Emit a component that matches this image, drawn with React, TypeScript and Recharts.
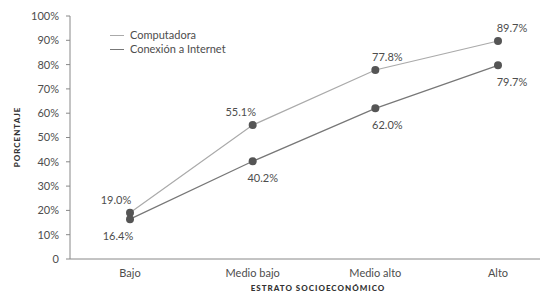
import { LineChart, Line, XAxis, YAxis, Label, LabelList } from 'recharts';

const estratos = ['Bajo', 'Medio bajo', 'Medio alto', 'Alto'];
const computadora = [19.0, 55.1, 77.8, 89.7];
const internet = [16.4, 40.2, 62.0, 79.7];
const yTicks = [0, 10, 20, 30, 40, 50, 60, 70, 80, 90, 100];

const data = estratos.map((name, i) => ({
  name,
  computadora: computadora[i],
  internet: internet[i],
}));

const FONT = 'Lato, "Open Sans", sans-serif';
const TEXT = '#4d4d4d';

// label offsets per point (top series above, bottom series below)
const topDx = [-14, -12, 12, 14];
const botDx = [-12, 10, 12, 14];

const makeLabel = (dxs: number[], dy: number) => (props: any) => {
  const { x, y, value, index } = props;
  return (
    <text
      x={x + dxs[index]}
      y={y + dy}
      textAnchor="middle"
      fontSize={11}
      fontFamily={FONT}
      fill={TEXT}
    >
      {Number(value).toFixed(1)}%
    </text>
  );
};

function LegendBox() {
  const items = [
    { label: 'Computadora', color: '#aaa' },
    { label: 'Conexión a Internet', color: '#777' },
  ];
  return (
    <div
      style={{
        position: 'absolute',
        left: 110,
        top: 28,
        fontFamily: FONT,
        fontSize: 11,
        color: TEXT,
        lineHeight: '14px',
      }}
    >
      {items.map((it) => (
        <div key={it.label} style={{ display: 'flex', alignItems: 'center' }}>
          <span style={{ display: 'inline-block', width: 14, height: 1, background: it.color, marginRight: 6 }} />
          {it.label}
        </div>
      ))}
    </div>
  );
}

export default function App() {
  return (
    <div style={{ position: 'absolute', left: 0, top: 0, width: 542, height: 297, background: '#fff' }}>
      <LineChart width={542} height={297} data={data} margin={{ top: 16, right: 2, bottom: 8, left: 0 }}>
        <XAxis
          dataKey="name"
          height={30}
          padding={{ left: 60, right: 42 }}
          tickLine={false}
          axisLine={{ stroke: '#888' }}
          tick={{ fontSize: 11, fontFamily: FONT, fill: TEXT }}
          tickMargin={4}
        >
          <Label
            value="ESTRATO SOCIOECONÓMICO"
            position="insideBottom"
            offset={-2}
            dx={13}
            style={{ fontSize: 8, fontWeight: 900, fontFamily: FONT, fill: '#333', letterSpacing: 1 }}
          />
        </XAxis>
        <YAxis
          width={70}
          domain={[0, 100]}
          ticks={yTicks}
          interval={0}
          tickFormatter={(v) => (v === 0 ? '0' : `${v}%`)}
          tickSize={4}
          tickMargin={7}
          axisLine={{ stroke: '#888' }}
          tickLine={{ stroke: '#888' }}
          tick={{ fontSize: 11, fontFamily: FONT, fill: TEXT }}
        />
        <text
          x={18}
          y={137}
          transform="rotate(-90 18 137)"
          textAnchor="middle"
          dominantBaseline="middle"
          style={{ fontSize: 8, fontWeight: 900, fontFamily: FONT, fill: '#333', letterSpacing: 1 }}
        >
          PORCENTAJE
        </text>
        <Line
          type="linear"
          dataKey="computadora"
          name="Computadora"
          stroke="#aaa"
          strokeWidth={1.2}
          dot={{ r: 4, fill: '#555', stroke: '#555', strokeWidth: 0 }}
          isAnimationActive={false}
        >
          <LabelList dataKey="computadora" content={makeLabel(topDx, -9)} />
        </Line>
        <Line
          type="linear"
          dataKey="internet"
          name="Conexión a Internet"
          stroke="#777"
          strokeWidth={1.2}
          dot={{ r: 4, fill: '#555', stroke: '#555', strokeWidth: 0 }}
          isAnimationActive={false}
        >
          <LabelList dataKey="internet" content={makeLabel(botDx, 21)} />
        </Line>
      </LineChart>
      <LegendBox />
    </div>
  );
}
